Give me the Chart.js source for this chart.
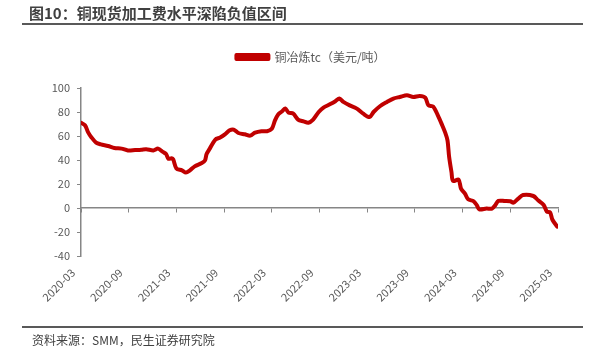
<!DOCTYPE html>
<html><head><meta charset="utf-8">
<script src="https://cdn.jsdelivr.net/npm/chart.js@4.4.1/dist/chart.umd.min.js"></script>
<style>
html,body{margin:0;padding:0;background:#fff;}
#wrap{position:relative;width:603px;height:363px;overflow:hidden;font-family:"Microsoft YaHei","Noto Sans CJK SC",sans-serif;}
#title{position:absolute;left:29px;top:3px;font-size:15px;font-weight:bold;color:#404040;line-height:20px;white-space:nowrap;}
#rule1{position:absolute;left:22px;top:23px;width:561px;height:2px;background:#595959;}
#rule2{position:absolute;left:22px;top:326px;width:561px;height:2px;background:#595959;}
#src{position:absolute;left:32px;top:332px;font-size:12px;color:#404040;line-height:16px;white-space:nowrap;}
canvas{position:absolute;left:0;top:0;}
</style></head>
<body><div id="wrap">
<canvas id="c" width="603" height="363"></canvas>
<div id="title">图10：铜现货加工费水平深陷负值区间</div>
<div id="rule1"></div>
<div id="rule2"></div>
<div id="src">资料来源：SMM，民生证券研究院</div>
</div>
<script>
const FONT = '"Microsoft YaHei","Noto Sans CJK SC",sans-serif';
const tickLabels = ['2020-03','2020-09','2021-03','2021-09','2022-03','2022-09','2023-03','2023-09','2024-03','2024-09','2025-03'];
const seriesName = '铜冶炼tc（美元/吨）';
// months elapsed since 2020-03
const monthIndex = [0,0.5,0.9,1.3,1.9,2.5,3.4,4.2,5.1,5.9,6.8,7.6,8.2,9.1,9.7,10.3,10.7,11.0,11.4,11.6,12.0,12.7,13.2,13.7,14.3,15.2,15.6,15.8,16.2,16.9,17.5,18.1,18.7,19.2,19.8,20.6,21.3,21.9,22.7,23.4,24.0,24.4,24.8,25.3,25.7,26.1,26.7,27.3,28.0,28.6,29.2,29.9,30.5,31.3,32.0,32.5,33.0,33.8,34.7,35.5,36.3,36.8,37.6,38.5,39.3,40.1,41.0,41.8,42.6,43.3,43.7,44.3,44.9,45.4,45.8,46.1,46.3,46.6,46.8,47.5,47.8,48.3,48.7,49.4,49.8,50.1,51.0,51.7,52.1,52.5,53.3,54.0,54.4,55.0,55.6,56.9,57.5,58.2,58.6,59.0,59.3,59.9];
const tcValues = [71,69,63,59,54.5,53,51.7,50,49.5,48,48.3,48.6,49,48,49.5,46.7,45,41,41.5,40.5,33,31.4,29.5,31.4,34.7,37.5,39.7,45,49.5,57,58.7,61.4,64.7,65.3,62.5,61.4,60.3,62.8,64,64,66,73,78,80.6,83,79.5,78.6,73.7,72.2,71.1,73.7,80,83.7,86.4,89,91.2,88.4,85.5,82.8,78.6,75.8,80,84.8,88.4,91.2,92.5,93.9,92.5,93.4,92,85.6,84.5,77,69.5,63,56.4,43,30,22.5,23.6,16.2,12,7.2,5.6,2.2,-1.2,-0.5,-0.5,2.2,5.9,5.8,5.6,4.4,7.8,10.8,10,6.4,2.5,-3,-3.6,-9.8,-15.5];

const points = monthIndex.map((m, i) => ({x: m, y: tcValues[i]}));

const legendShift = {
  id: 'legendShift',
  afterLayout(chart) { if (chart.legend) { chart.legend.left = 64; } }
};

new Chart(document.getElementById('c'), {
  type: 'line',
  data: {datasets: [{
    label: seriesName, data: points,
    borderColor: '#C00000', backgroundColor: '#C00000',
    borderWidth: 4, pointRadius: 0, tension: 0.3,
    borderJoinStyle: 'round', borderCapStyle: 'round',
    xAxisID: 'x', yAxisID: 'y'
  }]},
  plugins: [legendShift],
  options: {
    responsive: false, animation: false,
    layout: {padding: {left: 0, right: 45, top: 41, bottom: 0}},
    plugins: {
      legend: {display: true, position: 'top',
        labels: {boxWidth: 32, boxHeight: 4, padding: 10, color: '#595959', font: {size: 12, family: FONT}}},
      tooltip: {enabled: false}
    },
    scales: {
      x: {type: 'linear', min: 0, max: 60, position: {y: 0},
        ticks: {display: false, stepSize: 6},
        grid: {drawOnChartArea: false, drawTicks: true, tickLength: 4, color: '#868686', lineWidth: 1},
        border: {display: true, color: '#868686', width: 1.5}},
      xLabels: {type: 'linear', min: 0, max: 60, position: 'bottom',
        ticks: {stepSize: 6, autoSkip: false, minRotation: 45, maxRotation: 45, color: '#595959',
          font: {size: 11, family: FONT}, padding: 10, labelOffset: -8,
          callback: v => tickLabels[Math.round(v / 6)]},
        grid: {display: false, drawTicks: false}, border: {display: false},
        afterFit: s => { s.height = 107; }},
      xTop: {type: 'linear', position: 'top', display: true,
        ticks: {display: false}, grid: {display: false, drawTicks: false}, border: {display: false},
        afterFit: s => { s.height = 15; }},
      y: {min: -40, max: 100,
        ticks: {stepSize: 20, color: '#595959', font: {size: 11, family: FONT}, padding: 7},
        grid: {drawOnChartArea: false, drawTicks: true, tickLength: 4, color: '#868686'},
        border: {color: '#868686', width: 1.5},
        afterFit: s => { s.width = 81; }}
    }
  }
});
</script>
</body></html>
